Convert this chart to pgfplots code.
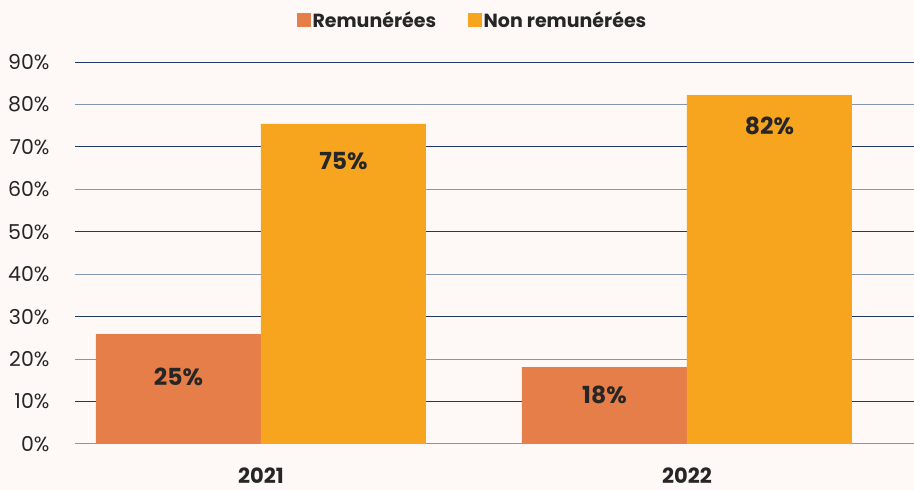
\documentclass[border=0pt]{standalone}
\usepackage{pgfplots}
\pgfplotsset{compat=1.18}
\usepackage{pgfplotstable}
\usepackage{fontspec}
\setmainfont{Poppins}
\definecolor{bg}{HTML}{FEF9F6}
\definecolor{orangebar}{HTML}{E67E4A}
\definecolor{yellowbar}{HTML}{F7A51E}
\definecolor{navy}{HTML}{1F3864}
\definecolor{slate}{HTML}{8496B0}
\definecolor{txt}{HTML}{262626}
\pgfplotstableread{
x y lab off
0 25.9 25 43
1 18.1 18 28
}\remun
\pgfplotstableread{
x y lab off
0 75.4 75 37
1 82.2 82 31
}\nonremun
\begin{document}
\begin{tikzpicture}[x=1pt,y=1pt]
\fill[bg] (-75,-46) rectangle (839,444);
\begin{axis}[
  at={(0,0)}, anchor=south west,
  scale only axis, width=839pt, height=382pt,
  xmin=-0.4366, xmax=1.533, ymin=0, ymax=90,
  ybar=0pt, bar width=165pt,
  axis line style={draw=none},
  major tick length=0pt,
  xtick={0,1}, xticklabels={2021,2022},
  xticklabel style={font=\fontsize{21}{21}\selectfont\bfseries, text=txt, inner sep=0pt, yshift=-24pt},
  ytick={10,30,50,70,90},
  extra y ticks={0,20,40,60,80},
  extra y tick style={grid style={slate, line width=1pt}},
  ymajorgrids, grid style={navy, line width=1pt},
  /pgf/number format/assume math mode=true,
  yticklabel={\pgfmathprintnumber{\tick}\%},
  yticklabel style={font=\fontsize{20.5}{20.5}\selectfont, text=txt, xshift=-22pt},
  axis on top=false,
  legend style={at={(0.474,1.11)}, anchor=center, draw=none, fill=none,
    legend columns=2, font=\fontsize{19}{19}\selectfont\bfseries, text=txt,
    /tikz/every even column/.append style={column sep=30pt},
    inner sep=0pt},
  legend image code/.code={\fill[#1] (0pt,-6.8pt) rectangle (13.5pt,6.8pt);},
  nodes near coords={\pgfmathprintnumber[fixed,precision=0]{\pgfplotspointmeta}\%},
  nodes near coords style={font=\fontsize{23.5}{23.5}\selectfont\bfseries, text=txt, anchor=center, /pgf/number format/assume math mode=true},
  visualization depends on={\thisrow{off} \as \myoff},
  every node near coord/.append style={yshift=-\myoff pt},
]
\addplot[fill=orangebar, draw=none, point meta=\thisrow{lab}] table[x=x,y=y] {\remun};
\addplot[fill=yellowbar, draw=none, point meta=\thisrow{lab}] table[x=x,y=y] {\nonremun};
\legend{Remunérées, Non remunérées}
\end{axis}
\pgfresetboundingbox
\useasboundingbox (-75,-46) rectangle (839,444);
\end{tikzpicture}
\end{document}
